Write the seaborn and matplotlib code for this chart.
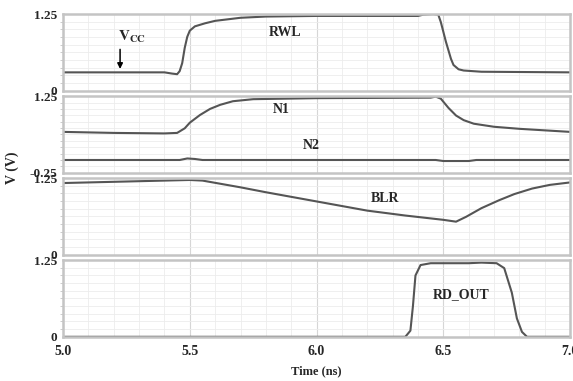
import numpy as np
import pandas as pd
import matplotlib
matplotlib.use("Agg")
import matplotlib.pyplot as plt
from matplotlib.ticker import MultipleLocator
from matplotlib.transforms import ScaledTranslation
import seaborn as sns

# waveforms (time in ns, volts)
rwl_t = [5.0, 5.40, 5.43, 5.45, 5.46, 5.47, 5.48, 5.49, 5.50, 5.52, 5.56, 5.60, 5.70, 5.80,
         6.00, 6.40, 6.42, 6.46, 6.48, 6.49, 6.51, 6.53, 6.54, 6.56, 6.58, 6.65, 7.0]
rwl_v = [0.30, 0.30, 0.28, 0.27, 0.32, 0.45, 0.70, 0.88, 0.98, 1.05, 1.10, 1.14, 1.19, 1.21,
         1.22, 1.22, 1.24, 1.25, 1.24, 1.12, 0.80, 0.52, 0.42, 0.35, 0.33, 0.31, 0.30]

n1_t = [5.0, 5.2, 5.4, 5.45, 5.48, 5.50, 5.54, 5.58, 5.62, 5.67, 5.75, 6.0, 6.45, 6.47, 6.49,
        6.52, 6.55, 6.58, 6.62, 6.70, 6.80, 6.90, 7.0]
n1_v = [0.55, 0.53, 0.52, 0.53, 0.62, 0.73, 0.88, 1.00, 1.08, 1.15, 1.19, 1.21, 1.22, 1.24, 1.20,
        1.02, 0.87, 0.78, 0.71, 0.65, 0.61, 0.58, 0.55]

n2_t = [5.0, 5.46, 5.49, 5.52, 5.55, 6.47, 6.50, 6.60, 6.63, 7.0]
n2_v = [0.0, 0.0, 0.03, 0.02, 0.0, 0.0, -0.02, -0.02, 0.0, 0.0]

blr_t = [5.0, 5.2, 5.4, 5.5, 5.55, 5.7, 5.8, 6.0, 6.2, 6.35, 6.5, 6.55, 6.59, 6.65,
         6.72, 6.78, 6.85, 6.92, 7.0]
blr_v = [1.17, 1.19, 1.21, 1.22, 1.21, 1.10, 1.02, 0.87, 0.72, 0.64, 0.57, 0.54, 0.62, 0.76,
         0.89, 0.99, 1.08, 1.14, 1.18]

rd_t = [5.0, 6.35, 6.37, 6.38, 6.39, 6.41, 6.45, 6.60, 6.65, 6.71, 6.74, 6.77, 6.79,
        6.81, 6.83, 7.0]
rd_v = [0.0, 0.0, 0.1, 0.5, 1.0, 1.17, 1.20, 1.20, 1.21, 1.20, 1.12, 0.72, 0.30,
        0.08, 0.0, 0.0]

x_ticks = [5.0, 5.5, 6.0, 6.5, 7.0]

sns.set_style("white")
plt.rcParams["font.family"] = ["Liberation Serif", "DejaVu Serif"]
plt.rcParams["font.weight"] = "bold"
plt.rcParams["mathtext.fontset"] = "stix"

line_color = "#555555"
frame_color = "#c4c4c4"

fig = plt.figure(figsize=(5.73, 3.81), dpi=100)
gs = fig.add_gridspec(4, 1, left=0.110, right=0.995, top=0.963, bottom=0.116, hspace=0.07)
axes = [fig.add_subplot(gs[i]) for i in range(4)]

panels = [
    ([(rwl_t, rwl_v)], (0, 1.25), [0, 1.25], ["0", "1.25"], (5, -2.5)),
    ([(n1_t, n1_v), (n2_t, n2_v)], (-0.25, 1.25), [-0.25, 1.25], ["-0.25", "1.25"], (1, -4)),
    ([(blr_t, blr_v)], (0, 1.25), [0, 1.25], ["0", "1.25"], (5, -4)),
    ([(rd_t, rd_v)], (0, 1.25), [0, 1.25], ["0", "1.25"], (2, -2)),
]

for ax, (series, ylim, yt, ytl, shifts) in zip(axes, panels):
    for t, v in series:
        df = pd.DataFrame({"t": t, "v": v})
        sns.lineplot(data=df, x="t", y="v", ax=ax, color=line_color, lw=1.5)
    ax.set_xlim(5.0, 7.0)
    ax.set_ylim(*ylim)
    ax.set_xlabel("")
    ax.set_ylabel("")
    ax.set_yticks(yt)
    ax.set_yticklabels(ytl, fontsize=9.5, fontweight="bold")
    # nudge the bottom label up and the top label down, like the reference
    for lab, dy in zip(ax.get_yticklabels(), shifts):
        lab.set_transform(lab.get_transform() + ScaledTranslation(0, dy / 100, fig.dpi_scale_trans))
    ax.yaxis.set_minor_locator(MultipleLocator(0.125))
    ax.xaxis.set_minor_locator(MultipleLocator(0.1))
    ax.set_xticks(x_ticks)
    ax.grid(which="major", axis="x", color="#d6d6d6", lw=0.8)
    ax.grid(which="minor", axis="x", color="#ececec", lw=0.6)
    ax.grid(which="minor", axis="y", color="#ececec", lw=0.6)
    ax.set_axisbelow(True)
    ax.tick_params(axis="y", which="major", length=3, color=frame_color, pad=1)
    ax.tick_params(axis="y", which="minor", length=2, color=frame_color, left=True)
    ax.tick_params(axis="x", which="both", length=0)
    for s in ax.spines.values():
        s.set_color(frame_color)
        s.set_linewidth(1.8)

for ax in axes[:3]:
    ax.set_xticklabels([])

axes[3].set_xticklabels(["5.0", "5.5", "6.0", "6.5", "7.0"], fontsize=10, fontweight="bold")
axes[3].tick_params(axis="x", pad=6)
axes[3].set_xlabel("Time (ns)", fontsize=9, fontweight="bold", labelpad=5)

fig.text(0.022, 0.56, "V (V)", rotation=90, fontsize=10, fontweight="bold",
         ha="center", va="center")

txt = dict(fontsize=10, fontweight="bold", ha="center", va="center")
axes[0].text(5.875, 0.95, "RWL", **txt)
axes[1].text(5.86, 0.99, "N1", **txt)
axes[1].text(5.98, 0.29, "N2", **txt)
axes[2].text(6.27, 0.91, "BLR", **txt)
axes[3].text(6.57, 0.68, "RD_OUT", **txt)

axes[0].annotate("", xy=(5.225, 0.31), xytext=(5.225, 0.72),
                 arrowprops=dict(arrowstyle="-|>", color="black", lw=1.1, mutation_scale=8))
axes[0].text(5.215, 0.74, r"$\mathbf{V_{CC}}$", fontsize=11, ha="left", va="bottom")

fig.savefig("out.png", dpi=100)
